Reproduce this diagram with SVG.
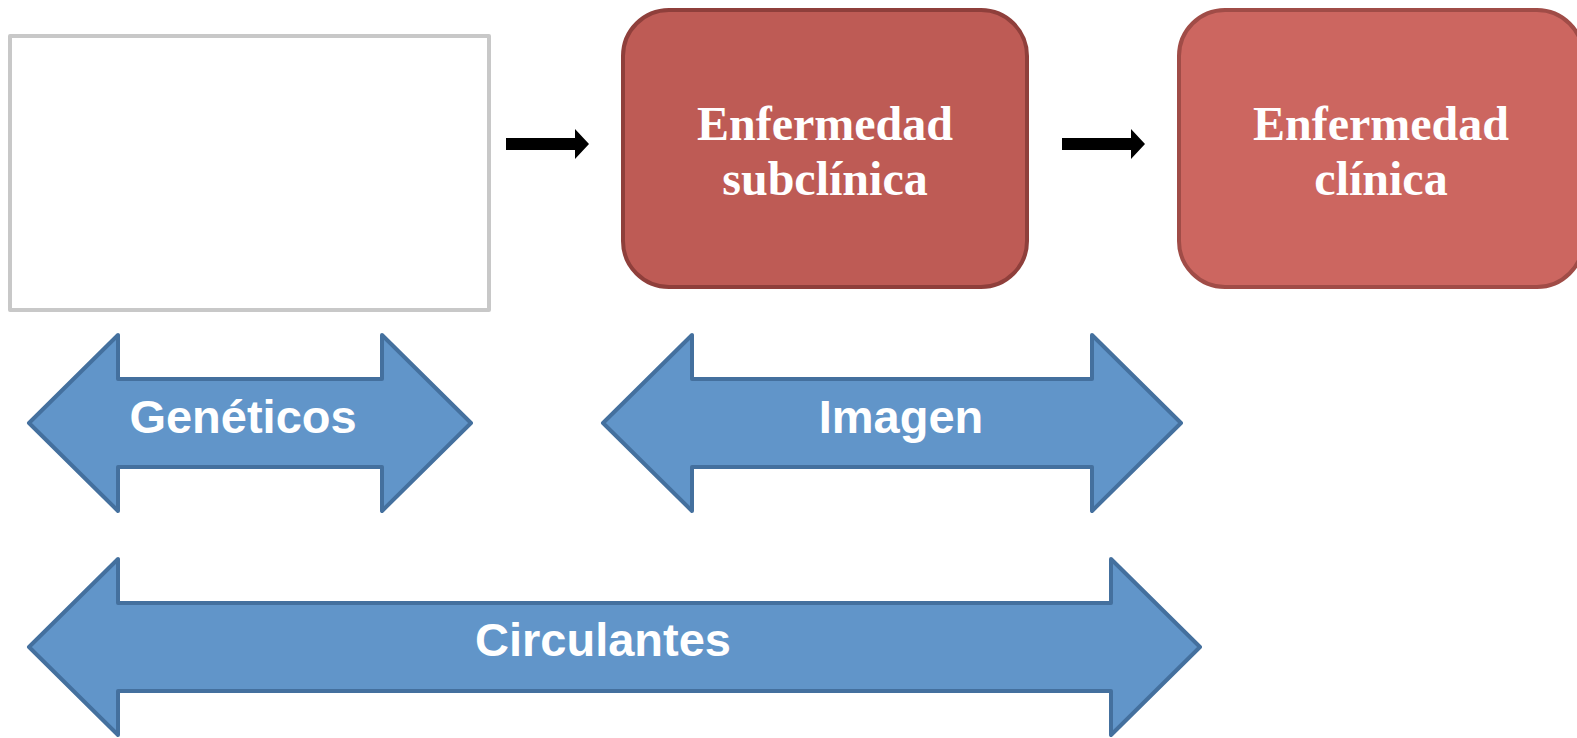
<svg xmlns="http://www.w3.org/2000/svg" width="1577" height="738" viewBox="0 0 1577 738">
<style>
.serif{font-family:"Liberation Serif","Times New Roman",serif;font-weight:bold;font-size:48px;fill:#fff;text-anchor:middle}
.sans{font-family:"Liberation Sans",Arial,sans-serif;font-weight:bold;font-size:47px;fill:#fff;text-anchor:middle}
.blue{fill:#6195c9;stroke:#44709e;stroke-width:4;stroke-linejoin:round}
</style>
<rect width="1577" height="738" fill="#fff"/>
<g id="box-empty">
<rect x="10" y="36" width="479" height="274" fill="#fff" stroke="#c8c8c8" stroke-width="4" stroke-linejoin="round"/>
</g>
<g id="subclinica">
<rect x="623" y="10" width="404" height="277" rx="46" fill="#be5b55" stroke="#8f3f3b" stroke-width="4"/>
<text class="serif" x="825" y="140">Enfermedad</text>
<text class="serif" x="825" y="195">subclínica</text>
</g>
<g id="clinica">
<rect x="1179" y="10" width="404" height="277" rx="46" fill="#cc6660" stroke="#a04c47" stroke-width="4"/>
<text class="serif" x="1381" y="140">Enfermedad</text>
<text class="serif" x="1381" y="195">clínica</text>
</g>
<g id="connectors">
<polygon points="506,138 575,138 575,129 589,144 575,159 575,150 506,150" fill="#000"/>
<polygon points="1062,138 1131,138 1131,129 1145,144 1131,159 1131,150 1062,150" fill="#000"/>
</g>
<g id="geneticos">
<polygon class="blue" points="29,423 118,335 118,379 382,379 382,335 471,423 382,511 382,467 118,467 118,511"/>
<text class="sans" x="243" y="433">Genéticos</text>
</g>
<g id="imagen">
<polygon class="blue" points="603,423 692,335 692,379 1092,379 1092,335 1181,423 1092,511 1092,467 692,467 692,511"/>
<text class="sans" x="901" y="433">Imagen</text>
</g>
<g id="circulantes">
<polygon class="blue" points="29,647 118,559 118,603 1111,603 1111,559 1200,647 1111,735 1111,691 118,691 118,735"/>
<text class="sans" x="603" y="656">Circulantes</text>
</g>
</svg>
